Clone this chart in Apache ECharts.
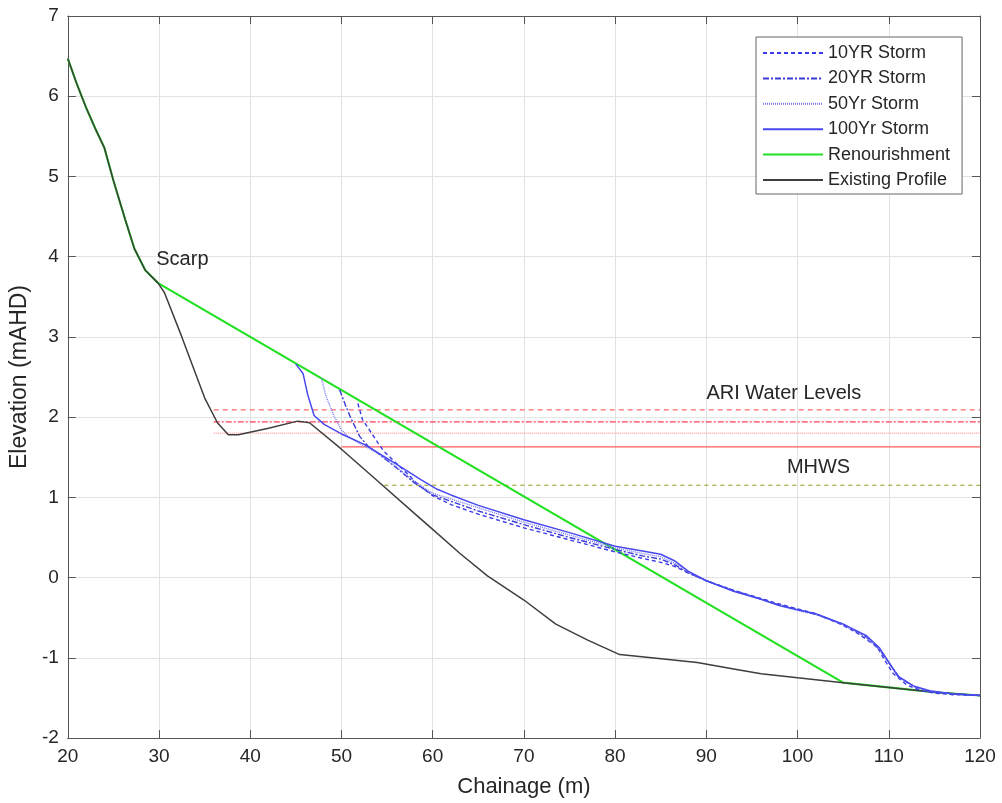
<!DOCTYPE html>
<html><head><meta charset="utf-8">
<script src="https://cdn.jsdelivr.net/npm/echarts@6/dist/echarts.min.js"></script>
<style>html,body{margin:0;padding:0;background:#fff}#c{width:1002px;height:803px}</style>
</head><body><div id="c"></div>
<script>
// ---------- data ----------
const xTicks = [20,30,40,50,60,70,80,90,100,110,120];
const yTicks = [-2,-1,0,1,2,3,4,5,6,7];

const existingProfile = [[20,6.47],[21,6.15],[22,5.86],[23,5.6],[24,5.36],[25,4.95],[26.3,4.46],[27.3,4.1],[28.5,3.83],[29.9,3.67],[30.6,3.55],[32.5,3.0],[35,2.24],[36.4,1.93],[37.6,1.78],[38.7,1.78],[42,1.86],[45.2,1.95],[46.5,1.93],[50,1.6],[54,1.2],[58.4,0.76],[60,0.6],[63,0.3],[66,0.02],[70,-0.28],[73.5,-0.58],[77,-0.78],[80.5,-0.96],[84,-1.0],[89,-1.06],[93,-1.14],[96,-1.2],[100,-1.25],[105,-1.31],[110,-1.37],[115,-1.43],[120,-1.47]];

const renourishment = [[20,6.47],[21,6.15],[22,5.86],[23,5.6],[24,5.36],[25,4.95],[26.3,4.46],[27.3,4.1],[28.5,3.83],[29.9,3.67],[105,-1.31],[110,-1.37],[115,-1.43],[120,-1.47]];

const storm100 = [[45,2.66],[45.8,2.54],[46.3,2.28],[47,2.02],[48.1,1.91],[50,1.79],[52.5,1.66],[55.8,1.43],[58.7,1.22],[60.5,1.1],[62,1.03],[65,0.9],[70,0.72],[75,0.56],[80,0.39],[83,0.33],[85,0.29],[86.5,0.21],[88,0.08],[90,-0.04],[93,-0.17],[96,-0.27],[98,-0.35],[100,-0.4],[102,-0.45],[105,-0.58],[107.5,-0.72],[109,-0.88],[109.8,-1.02],[111,-1.23],[112.7,-1.35],[114.5,-1.41],[117,-1.45],[120,-1.47]];

const storm50 = [[47.8,2.49],[48.3,2.26],[49.2,2.01],[50,1.84],[50.7,1.76],[52,1.67],[54,1.55],[56,1.38],[58,1.2],[60,1.05],[62,0.98],[65,0.87],[70,0.69],[75,0.53],[80,0.37],[83,0.3],[85,0.26],[86.5,0.18],[88,0.07],[90,-0.04],[93,-0.17],[96,-0.27],[98,-0.35],[100,-0.41],[102,-0.46],[105,-0.59],[107.5,-0.74],[109,-0.91],[110,-1.06],[111.2,-1.25],[112.8,-1.36],[114.5,-1.42],[117,-1.45],[120,-1.47]];

const storm20 = [[49.8,2.34],[50.5,2.13],[51.1,1.97],[52,1.76],[52.9,1.64],[54,1.55],[56,1.37],[58,1.18],[60,1.03],[62,0.95],[65,0.83],[70,0.66],[75,0.5],[80,0.35],[83,0.27],[85,0.23],[86.5,0.16],[88,0.06],[90,-0.04],[93,-0.16],[96,-0.27],[98,-0.34],[100,-0.4],[102,-0.46],[105,-0.58],[107.5,-0.74],[109,-0.9],[110,-1.06],[111.2,-1.25],[112.8,-1.36],[114.5,-1.42],[117,-1.45],[120,-1.47]];

const storm10 = [[51.8,2.17],[52.3,1.97],[53.3,1.8],[54,1.68],[54.6,1.58],[55.5,1.48],[57,1.32],[58.5,1.15],[60,1.02],[62,0.91],[65,0.79],[70,0.62],[75,0.47],[80,0.32],[83,0.24],[85,0.19],[86.5,0.14],[88,0.06],[90,-0.04],[93,-0.16],[96,-0.26],[98,-0.33],[100,-0.39],[102,-0.45],[104.9,-0.59],[106.5,-0.69],[108.7,-0.86],[109.5,-1.02],[110.5,-1.2],[112,-1.34],[113.5,-1.41],[115,-1.44],[117,-1.46],[120,-1.47]];

const ariLevels = [2.09, 1.94, 1.80, 1.63];
const ariStart = [36, 36, 36, 50];
const mhwsLevel = 1.15;
const mhwsStart = 54.7;

const annotations = [
  {name:'Scarp', value:[29.7,3.97], align:'left'},
  {name:'ARI Water Levels', value:[98.5,2.3], align:'center'},
  {name:'MHWS', value:[102.3,1.37], align:'center'}
];

// ---------- chart ----------
const FONT = '"Liberation Sans", Arial, sans-serif';
const TXT = '#262626';
const chart = echarts.init(document.getElementById('c'), null, {renderer:'canvas'});

function hline(name, y, x0, color, type, width){
  return {name, type:'line', data:[[x0,y],[120,y]], symbol:'none', silent:true,
    lineStyle:{color, type, width}, itemStyle:{color}, z:2, animation:false};
}
function prof(name, data, color, type, width, z){
  return {name, type:'line', data, symbol:'none', smooth:false,
    lineStyle:{color, type, width}, itemStyle:{color}, z, animation:false};
}

const series = [
  hline('ARI1', ariLevels[0], ariStart[0], '#ff6a6a', [5,4], 1.3),
  hline('ARI2', ariLevels[1], ariStart[1], '#ff3b55', [6,2,2,2], 1.3),
  hline('ARI3', ariLevels[2], ariStart[2], '#ff9a9a', [1,1], 1.3),
  hline('ARI4', ariLevels[3], ariStart[3], '#ff5a5a', 'solid', 1.3),
  hline('MHWS', mhwsLevel, mhwsStart, '#b0b040', [4,4], 1.3),
  prof('Renourishment', renourishment, '#22e022', 'solid', 2.2, 3),
  prof('Existing Profile', existingProfile, '#3e3e3e', 'solid', 1.5, 4),
  prof('10YR Storm', storm10, '#3a3ae8', [4,3], 1.4, 5),
  prof('20YR Storm', storm20, '#3a3ad8', [6,2,2,2], 1.4, 5),
  prof('50Yr Storm', storm50, '#7878f5', [1,1], 1.4, 5),
  prof('100Yr Storm', storm100, '#4848f0', 'solid', 1.5, 5),
  {name:'labels', type:'scatter', symbolSize:0, silent:true, itemStyle:{opacity:1},
    data: annotations.map(a=>({name:a.name, value:a.value,
      label:{show:true, formatter:'{b}', position:'inside', align:a.align,
        color:TXT, opacity:1, fontSize:20, fontFamily:FONT}})), z:6}
];

const axisLabel = {color:TXT, fontSize:19, fontFamily:FONT, margin:9};
const axisLine = {show:true, onZero:false, lineStyle:{color:'#555', width:1}};
const axisTick = {show:true, inside:true, length:8, lineStyle:{color:'#555'}};
const splitLine = {show:true, lineStyle:{color:'#e2e2e2', width:1}};

chart.setOption({
  animation:false,
  backgroundColor:'#fff',
  grid:{left:66, right:22, top:16, bottom:64, containLabel:false},
  legend:{
    data:['10YR Storm','20YR Storm','50Yr Storm','100Yr Storm','Renourishment','Existing Profile'],
    orient:'vertical', left:756, top:37,
    itemWidth:60, itemHeight:18, itemGap:7.4,
    itemStyle:{opacity:0},
    textStyle:{color:TXT, fontSize:18, fontFamily:FONT, lineHeight:18},
    borderColor:'#666', borderWidth:1, backgroundColor:'#fff',
    padding:[7,12,5,6], selectedMode:false
  },
  xAxis:[
    {type:'value', min:20, max:120, interval:10, name:'Chainage (m)', nameLocation:'middle', nameGap:38,
      nameTextStyle:{color:TXT, fontSize:22, fontFamily:FONT},
      axisLabel, axisLine, axisTick, splitLine},
    {type:'value', position:'top', min:20, max:120, interval:10, axisLabel:{show:false},
      axisLine, axisTick, splitLine:{show:false}}
  ],
  yAxis:[
    {type:'value', min:-2, max:7, interval:1, name:'Elevation (mAHD)', nameLocation:'middle', nameGap:31,
      nameTextStyle:{color:TXT, fontSize:23, fontFamily:FONT},
      axisLabel, axisLine, axisTick, splitLine},
    {type:'value', position:'right', min:-2, max:7, interval:1, axisLabel:{show:false},
      axisLine, axisTick, splitLine:{show:false}}
  ],
  series
});
</script></body></html>
